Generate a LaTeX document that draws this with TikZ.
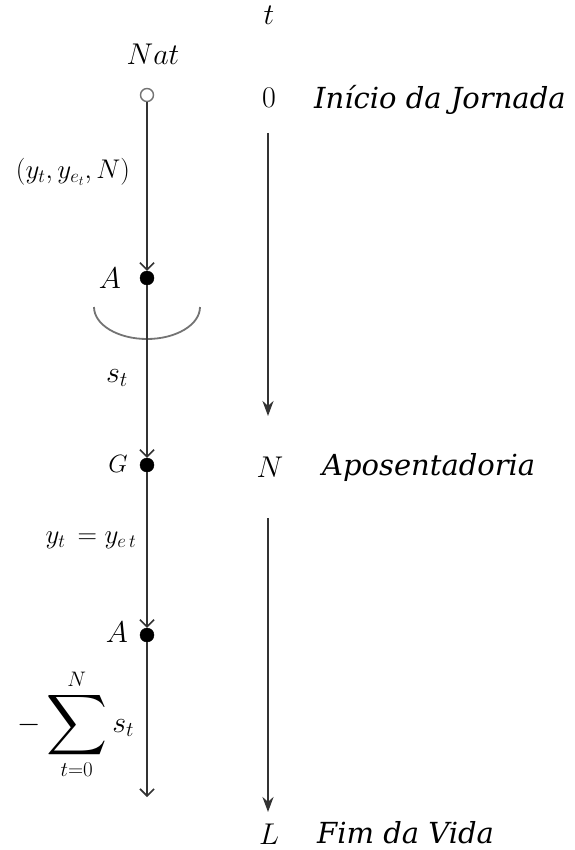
\RequirePackage{fix-cm}
\documentclass[tikz,border=0pt]{standalone}
\usepackage{amsmath}
\usepackage{fontspec}
\newfontfamily\labelfont{DejaVu Serif}
\usetikzlibrary{arrows.meta}
\begin{document}
\begin{tikzpicture}[x=1pt,y=-1pt,
  big/.style={font=\fontsize{30}{34}\selectfont, inner sep=0pt},
  mid/.style={font=\fontsize{27}{30}\selectfont, inner sep=0pt},
  small/.style={font=\fontsize{25}{28}\selectfont, inner sep=0pt},
  phase/.style={font=\labelfont\itshape\fontsize{29}{32}\selectfont, inner sep=0pt, anchor=west},
  dotnode/.style={circle, fill=black, draw=black, minimum size=14pt, inner sep=0pt},
  opendot/.style={circle, fill=white, draw=black!55, line width=1.4pt, minimum size=13pt, inner sep=0pt},
  conn/.style={draw=black!80, line width=2.2pt, -{Straight Barb[length=7pt,width=14pt,line width=1.6pt]}},
  timeln/.style={draw=black!80, line width=2.4pt, -{Stealth[length=15pt,width=11pt]}}]
\useasboundingbox (0,0) rectangle (574,850);
% left chain
\node[opendot] (nat) at (147,95) {};
\node[dotnode] (a1) at (147,278) {};
\node[dotnode] (g) at (147,465) {};
\node[dotnode] (a2) at (147,635) {};
\coordinate (lend) at (147,797);
\draw[black!55, line width=1.8pt] (94,307) arc[start angle=180,end angle=0,x radius=53,y radius=32];
\draw[conn] (nat) -- (a1);
\draw[conn] (a1) -- (g);
\draw[conn] (g) -- (a2);
\draw[conn] (a2) -- (lend);
% left labels
\node[big] (natl) at (153,54) {$Nat$};
\node[mid] (yl) at (73,172) {$\left(y_t, y_{e_t}, N\right)$};
\node[big] (a1l) at (110,278) {$A$};
\node[big] (stl) at (117,378) {$s_t$};
\node[small] (gl) at (118,464) {$G$};
\node[mid] (eql) at (91,540) {$y_t\, = y_{e\,t}$};
\node[big] (a2l) at (117,632) {$A$};
\node[big] (suml) at (76,724) {$\displaystyle -\mathop{\vcenter{\hbox{\scalebox{1.7}{$\displaystyle\sum$}}}}\limits_{t=0}^{N} s_t$};
% right timeline
\node[big] (tt) at (269,15) {$t$};
\node[big] (t0) at (269,98) {$0$};
\node[big] (tN) at (270,467) {$N$};
\node[big] (tL) at (269,834) {$L$};
\coordinate (r1s) at (268,133);
\coordinate (r1e) at (268,416);
\coordinate (r2s) at (268,518);
\coordinate (r2e) at (268,812);
\draw[timeln] (r1s) -- (r1e);
\draw[timeln] (r2s) -- (r2e);
\node[phase] (inicio) at (314,100) {Início da Jornada};
\node[phase] (apos) at (322,467) {Aposentadoria};
\node[phase] (fim) at (317,833) {Fim da Vida};
\end{tikzpicture}
\end{document}
